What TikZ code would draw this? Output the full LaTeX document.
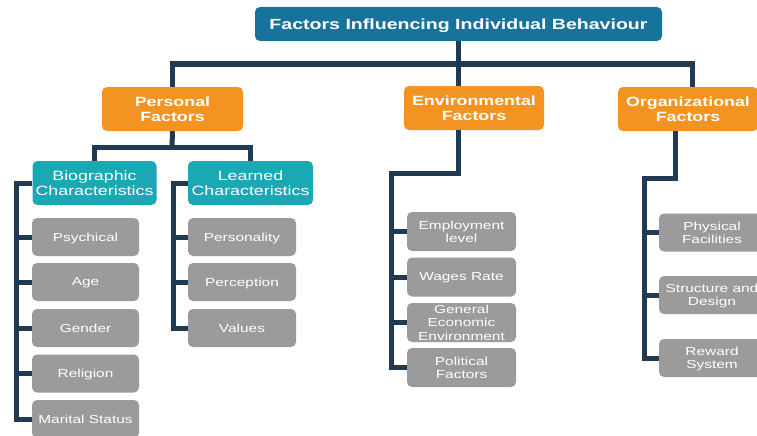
\documentclass[tikz,border=0pt]{standalone}
\usepackage{fontspec}
\setmainfont{Liberation Sans}[FakeStretch=1.33]
\definecolor{titleblue}{HTML}{17739C}
\definecolor{orangec}{HTML}{F39422}
\definecolor{tealc}{HTML}{1AA8B5}
\definecolor{grayc}{HTML}{9B9B9B}
\definecolor{linec}{HTML}{1F3A52}
\tikzset{
  box/.style={rounded corners=5pt, inner sep=0pt, align=center, text=white, text depth=0pt},
  titlebox/.style={box, fill=titleblue, minimum width=407pt, minimum height=34pt, font=\fontsize{14.7}{16.5}\selectfont\bfseries},
  orangebox/.style={box, fill=orangec, minimum width=140pt, minimum height=44pt, font=\fontsize{13.4}{14.3}\selectfont\bfseries},
  tealbox/.style={box, fill=tealc, minimum width=124pt, minimum height=44pt, font=\fontsize{13.4}{15}\selectfont},
  graybox/.style={box, fill=grayc, minimum width=108pt, minimum height=38pt, font=\fontsize{11.6}{13.3}\selectfont},
  conn/.style={draw=linec, line width=5pt}
}
\begin{document}
\begin{tikzpicture}[x=1pt, y=-1pt]
\useasboundingbox (0,0) rectangle (757,436);
\clip (0,0) rectangle (757,436);
\fill[white] (0,0) rectangle (757,436);
% nodes
\node[titlebox] (title) at (458.5,24) {Factors Influencing Individual Behaviour};
\node[orangebox, minimum width=141pt] (personal) at (172.5,109) {Personal\\Factors};
\node[orangebox] (env) at (474,108) {Environmental\\Factors};
\node[orangebox] (org) at (688,109) {Organizational\\Factors};
\node[tealbox] (bio) at (94.5,183) {Biographic\\Characteristics};
\node[tealbox, minimum width=125pt] (learned) at (250.5,183) {Learned\\Characteristics};
\node[graybox, minimum width=107pt] (b1) at (85.5,237) {Psychical};
\node[graybox, minimum width=107pt] (b2) at (85.5,282) {Age};
\node[graybox, minimum width=107pt] (b3) at (85.5,328) {Gender};
\node[graybox, minimum width=107pt] (b4) at (85.5,373.5) {Religion};
\node[graybox, minimum width=107pt] (b5) at (85.5,419) {Marital Status};
\node[graybox] (l1) at (242,237) {Personality};
\node[graybox] (l2) at (242,282) {Perception};
\node[graybox] (l3) at (242,328) {Values};
\node[graybox, minimum width=109pt, minimum height=39pt] (e1) at (461.5,231.5) {Employment\\level};
\node[graybox, minimum width=109pt, minimum height=39pt] (e2) at (461.5,277) {Wages Rate};
\node[graybox, minimum width=109pt, minimum height=39pt] (e3) at (461.5,322.5) {General\\Economic\\Environment};
\node[graybox, minimum width=109pt, minimum height=39pt] (e4) at (461.5,367.5) {Political\\Factors};
\node[graybox, minimum width=106pt] (o1) at (712,232.5) {Physical\\Facilities};
\node[graybox, minimum width=106pt] (o2) at (712,295) {Structure and\\Design};
\node[graybox, minimum width=106pt] (o3) at (712,358) {Reward\\System};
% coordinates
\coordinate (tb) at (458,64);
\coordinate (pbus) at (172,147);
\coordinate (bx) at (16,183);
\coordinate (lx) at (173,183);
\coordinate (ebend) at (391,173);
\coordinate (obend) at (644,178);
% connectors
\draw[conn] (title.south) -- (title.south |- env.north);
\draw[conn] (personal.north) |- (tb) -| ([xshift=4pt]org.north);
\draw[conn] (personal.south) -- (pbus);
\draw[conn] (bio.north) |- (pbus) -| (learned.north);
\draw[conn] (bio.west) -- (bx) -- (bx |- b5.west) -- (b5.west);
\foreach \n in {b1,b2,b3,b4} \draw[conn] (bx |- \n.west) -- (\n.west);
\draw[conn] (learned.west) -- (lx) -- (lx |- l3.west) -- (l3.west);
\foreach \n in {l1,l2} \draw[conn] (lx |- \n.west) -- (\n.west);
\draw[conn] (title.south |- env.south) |- (ebend) -- (ebend |- e4.west) -- (e4.west);
\foreach \n in {e1,e2,e3} \draw[conn] (ebend |- \n.west) -- (\n.west);
\draw[conn] ([xshift=-13pt]org.south) |- (obend) -- (obend |- o3.west) -- (o3.west);
\foreach \n in {o1,o2} \draw[conn] (obend |- \n.west) -- (\n.west);
\end{tikzpicture}
\end{document}
